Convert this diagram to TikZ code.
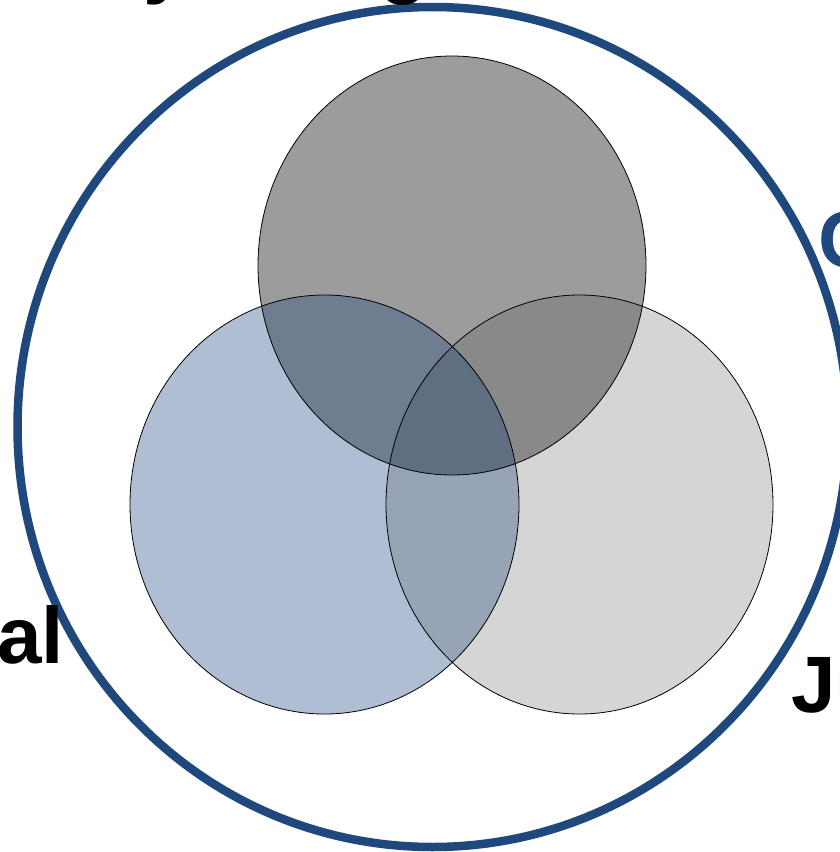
\documentclass[tikz,border=0pt]{standalone}
\usepackage{fontspec}
\setmainfont{Liberation Sans}
\definecolor{ringblue}{HTML}{1F497D}
\definecolor{cT}{HTML}{9C9C9C}
\definecolor{cL}{HTML}{AFBED2}
\definecolor{cR}{HTML}{D5D5D5}
\definecolor{cTL}{HTML}{6E7D8F}
\definecolor{cTR}{HTML}{898989}
\definecolor{cLR}{HTML}{96A4B5}
\definecolor{cTLR}{HTML}{5F6E80}
\tikzset{
  lbl/.style={inner sep=0pt, font=\fontsize{80}{96}\selectfont\bfseries},
  setline/.style={draw=black, line width=0.8pt},
}
\begin{document}
\begin{tikzpicture}[x=1pt,y=-1pt]
\useasboundingbox (0,0) rectangle (840,852);
\clip (0,0) rectangle (840,852);
\def\T{(452,265.5) ellipse [x radius=194, y radius=209.5]}
\def\L{(324.5,504.5) ellipse [x radius=194.5, y radius=209.5]}
\def\R{(579.5,504.5) ellipse [x radius=193.5, y radius=209.5]}
% outer ring
\draw[ringblue, line width=8.5pt] (432.5,427) ellipse [x radius=415, y radius=420];
% single fills
\fill[cT] \T;
\fill[cL] \L;
\fill[cR] \R;
% pairwise
\begin{scope}\clip \T; \fill[cTL] \L; \end{scope}
\begin{scope}\clip \T; \fill[cTR] \R; \end{scope}
\begin{scope}\clip \L; \fill[cLR] \R; \end{scope}
\begin{scope}\clip \T; \clip \L; \fill[cTLR] \R; \end{scope}
% outlines
\draw[setline] \T;
\draw[setline] \L;
\draw[setline] \R;
% labels (clipped by the page)
\node[lbl, anchor=base west] (top) at (-34,-12) {Study Design};
\node[lbl, anchor=base east] (left) at (64,663) {Social};
\node[lbl, anchor=base west, text=ringblue] (right) at (818,267) {Culture};
\node[lbl, anchor=base west] (bottom) at (791,712) {Justice};
\end{tikzpicture}
\end{document}
